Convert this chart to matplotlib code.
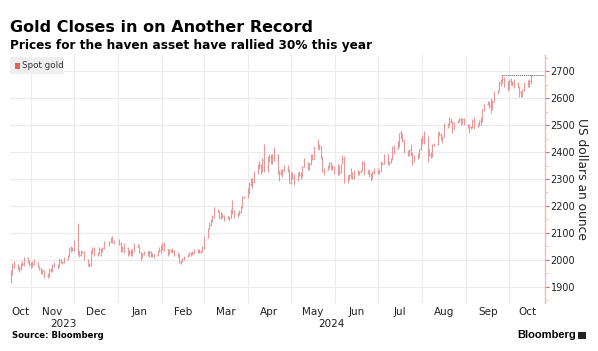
import numpy as np
import pandas as pd
import matplotlib
matplotlib.use("Agg")
import matplotlib.pyplot as plt
import matplotlib.dates as mdates
from matplotlib.patches import Rectangle

title = "Gold Closes in on Another Record"
subtitle = "Prices for the haven asset have rallied 30% this year"
source = "Source: Bloomberg"
series_name = "Spot gold"
y_label = "US dollars an ounce"
y_ticks = [1900, 2000, 2100, 2200, 2300, 2400, 2500, 2600, 2700]

# daily close / high / low, business days 2023-10-18 .. 2024-10-16 (Dec 25, Jan 1 closed)
close = [
    # Oct 2023
    1948, 1974, 1981, 1973, 1971, 1979, 1985, 2006, 1996, 1983,
    # Nov
    1983, 1985, 1992, 1978, 1969, 1950, 1958, 1940, 1946, 1963, 1959, 1981, 1981, 1978, 1999, 1990, 1992, 2002, 2014, 2041, 2044, 2036,
    # Dec
    2072, 2029, 2019, 2025, 2028, 2004, 1982, 1980, 2027, 2035, 2019, 2027, 2040, 2031, 2045, 2053, 2067, 2077, 2065, 2063,
    # Jan 2024
    2059, 2042, 2043, 2045, 2027, 2030, 2024, 2029, 2049, 2055, 2028, 2006, 2023, 2029, 2021, 2029, 2014, 2020, 2018, 2033, 2037, 2039,
    # Feb
    2054, 2039, 2025, 2035, 2035, 2034, 2024, 2020, 1992, 1992, 2004, 2013, 2018, 2025, 2025, 2024, 2035, 2031, 2030, 2034, 2044,
    # Mar
    2083, 2114, 2128, 2148, 2160, 2179, 2182, 2158, 2175, 2162, 2155, 2160, 2157, 2186, 2181, 2165, 2172, 2178, 2194, 2230, 2233,
    # Apr
    2250, 2280, 2300, 2290, 2329, 2339, 2352, 2333, 2372, 2344, 2383, 2383, 2361, 2379, 2391, 2327, 2322, 2316, 2332, 2337, 2336, 2286,
    # May
    2320, 2304, 2301, 2324, 2315, 2309, 2346, 2360, 2336, 2358, 2386, 2376, 2414, 2425, 2421, 2379, 2329, 2334, 2350, 2361, 2338, 2343, 2327,
    # Jun
    2350, 2327, 2355, 2376, 2293, 2311, 2316, 2325, 2304, 2333, 2319, 2330, 2328, 2360, 2321, 2334, 2320, 2298, 2327, 2326,
    # Jul
    2332, 2330, 2356, 2356, 2392, 2359, 2364, 2371, 2415, 2411, 2422, 2469, 2459, 2445, 2400, 2396, 2409, 2397, 2364, 2387, 2384, 2411, 2447,
    # Aug
    2446, 2443, 2410, 2390, 2383, 2427, 2431, 2472, 2465, 2448, 2456, 2507, 2504, 2514, 2512, 2484, 2512, 2518, 2524, 2505, 2521, 2503,
    # Sep
    2500, 2493, 2494, 2517, 2497, 2506, 2516, 2512, 2558, 2578, 2582, 2570, 2559, 2587, 2622, 2628, 2657, 2657, 2672, 2658, 2634,
    # Oct 2024
    2662, 2658, 2656, 2653, 2643, 2622, 2608, 2631, 2657, 2649, 2662, 2674,
]
high = [
    1962, 1987, 1997, 1985, 1979, 1989, 1995, 2009, 2010, 1999,
    1993, 1995, 2003, 1992, 1979, 1971, 1965, 1961, 1950, 1971, 1969, 1986, 1993, 1986, 2007, 2002, 1997, 2009, 2018, 2048, 2052, 2048,
    2075, 2135, 2038, 2036, 2034, 2034, 2005, 1988, 2037, 2048, 2047, 2030, 2047, 2045, 2048, 2070, 2070, 2084, 2088, 2075,
    2079, 2067, 2050, 2064, 2048, 2038, 2040, 2040, 2062, 2059, 2057, 2029, 2024, 2032, 2032, 2037, 2033, 2024, 2021, 2035, 2049, 2056,
    2065, 2066, 2042, 2039, 2041, 2044, 2037, 2029, 2023, 1999, 2006, 2016, 2022, 2031, 2031, 2034, 2041, 2041, 2039, 2037, 2052,
    2088, 2120, 2141, 2152, 2165, 2195, 2189, 2185, 2178, 2175, 2167, 2164, 2163, 2189, 2223, 2185, 2176, 2185, 2199, 2236, 2236,
    2266, 2288, 2305, 2305, 2331, 2354, 2365, 2354, 2378, 2431, 2386, 2392, 2392, 2391, 2417, 2393, 2333, 2337, 2338, 2352, 2353, 2336,
    2326, 2326, 2320, 2326, 2331, 2325, 2350, 2378, 2362, 2361, 2391, 2394, 2422, 2450, 2430, 2424, 2385, 2340, 2352, 2364, 2363, 2352, 2350,
    2354, 2351, 2357, 2388, 2387, 2313, 2318, 2342, 2327, 2335, 2333, 2331, 2335, 2368, 2368, 2335, 2337, 2321, 2330, 2339,
    2339, 2335, 2365, 2363, 2392, 2392, 2366, 2378, 2424, 2425, 2440, 2469, 2483, 2469, 2447, 2408, 2411, 2431, 2400, 2390, 2395, 2413, 2451,
    2462, 2477, 2461, 2413, 2400, 2430, 2434, 2475, 2477, 2471, 2461, 2509, 2509, 2531, 2525, 2515, 2513, 2519, 2527, 2528, 2525, 2525,
    2505, 2503, 2497, 2523, 2529, 2506, 2518, 2529, 2560, 2578, 2589, 2590, 2600, 2593, 2625, 2631, 2664, 2670, 2685, 2677, 2665,
    2670, 2673, 2665, 2670, 2660, 2645, 2625, 2634, 2660, 2666, 2672, 2685,
]
low = [
    1915, 1943, 1968, 1961, 1954, 1962, 1976, 1978, 1990, 1979,
    1970, 1974, 1980, 1972, 1964, 1947, 1946, 1932, 1931, 1936, 1954, 1955, 1973, 1966, 1974, 1987, 1986, 1990, 2000, 2011, 2031, 2032,
    2034, 2018, 2010, 2016, 2024, 2001, 1977, 1973, 1978, 2023, 2015, 2016, 2023, 2016, 2030, 2042, 2051, 2065, 2063, 2058,
    2057, 2031, 2031, 2024, 2016, 2019, 2015, 2013, 2032, 2048, 2025, 2001, 2007, 2018, 2015, 2010, 2010, 2009, 2008, 2015, 2030, 2026,
    2036, 2033, 2015, 2023, 2028, 2026, 2014, 2011, 1990, 1984, 1991, 1998, 2010, 2015, 2015, 2017, 2020, 2025, 2025, 2025, 2031,
    2041, 2082, 2114, 2126, 2142, 2156, 2176, 2150, 2152, 2155, 2146, 2150, 2146, 2154, 2172, 2155, 2160, 2168, 2175, 2192, 2228,
    2228, 2246, 2275, 2268, 2286, 2319, 2338, 2319, 2326, 2326, 2325, 2364, 2356, 2354, 2368, 2320, 2291, 2313, 2306, 2325, 2325, 2285,
    2281, 2299, 2277, 2291, 2310, 2301, 2306, 2345, 2335, 2335, 2352, 2370, 2374, 2412, 2406, 2374, 2326, 2316, 2335, 2340, 2334, 2334, 2317,
    2314, 2316, 2321, 2354, 2287, 2286, 2298, 2303, 2301, 2301, 2314, 2313, 2321, 2328, 2316, 2317, 2309, 2293, 2299, 2320,
    2318, 2319, 2330, 2354, 2356, 2353, 2353, 2360, 2371, 2392, 2411, 2420, 2450, 2437, 2396, 2385, 2384, 2385, 2353, 2365, 2375, 2377, 2408,
    2428, 2431, 2364, 2386, 2377, 2382, 2422, 2427, 2458, 2443, 2432, 2456, 2488, 2496, 2507, 2471, 2485, 2507, 2510, 2501, 2505, 2501,
    2490, 2472, 2484, 2489, 2485, 2492, 2496, 2500, 2513, 2553, 2575, 2565, 2546, 2555, 2586, 2614, 2627, 2645, 2655, 2640, 2625,
    2634, 2647, 2646, 2636, 2637, 2605, 2605, 2604, 2627, 2643, 2643, 2654,
]

closed_days = ["2023-12-25", "2024-01-01"]
dates = pd.bdate_range("2023-10-18", "2024-10-16")
dates = dates[~dates.isin(pd.to_datetime(closed_days))]
n = min(len(dates), len(close), len(high), len(low))
dates = dates[:n]
close = np.array(close[:n], float)
high = np.array(high[:n], float)
low = np.array(low[:n], float)
opens = np.concatenate([[close[0]], close[:-1]])

W, H = 598, 351
fig = plt.figure(figsize=(W / 100, H / 100), dpi=100)
fig.patch.set_facecolor("white")

x0, x1 = 10, 545
y0, y1 = 55, 303
ax = fig.add_axes([x0 / W, 1 - y1 / H, (x1 - x0) / W, (y1 - y0) / H])

xmin = pd.Timestamp("2023-10-17 12:00")
xmax = pd.Timestamp("2024-10-26")
ax.set_xlim(xmin, xmax)
ax.set_ylim(1840, 2760)

bar_color = "#e49a9a"
xd = mdates.date2num(dates)
ax.vlines(xd, low, high, color=bar_color, lw=0.8, zorder=3)
tick = 0.45
ax.hlines(opens, xd - tick, xd, color=bar_color, lw=0.6, zorder=3)
ax.hlines(close, xd, xd + tick, color=bar_color, lw=0.6, zorder=3)

# previous record marker
prev_idx = int(np.argmax(high[:-1]))
ax.hlines(high[prev_idx], xd[prev_idx], mdates.date2num(xmax), colors="#555555",
          linestyles=(0, (1, 1)), lw=0.7, zorder=4)

# grid
month_starts = pd.date_range("2023-11-01", "2024-10-01", freq="MS")
for m in month_starts:
    ax.axvline(m, color="#ebebeb", lw=0.8, zorder=1)
ax.set_yticks(y_ticks)
ax.set_yticks(np.arange(1850, 2760, 50), minor=True)
ax.grid(axis="y", which="major", color="#ebebeb", lw=0.8, zorder=1)

for s in ["top", "left", "bottom"]:
    ax.spines[s].set_visible(False)
ax.spines["right"].set_color("#f2b8b8")
ax.spines["right"].set_linewidth(1.0)
ax.yaxis.tick_right()
ax.tick_params(axis="y", which="major", colors="#e06060", length=3, width=0.8,
               labelcolor="#222222", labelsize=7, pad=1)
ax.tick_params(axis="y", which="minor", colors="#f2b8b8", length=2, width=0.6)
# axis title placed in figure pixels to the right of the tick labels
fig.text(581 / W, 1 - (y0 + y1) / 2 / H, y_label, rotation=-90, fontsize=8.8, color="#222222",
         ha="center", va="center")

# month labels centered on visible part of each month
ax.set_xticks([])
all_bounds = [xmin] + list(month_starts) + [xmax]
for a, b in zip(all_bounds[:-1], all_bounds[1:]):
    mid = a + (b - a) / 2
    ax.text(mid, -0.015, a.strftime("%b"),
            transform=ax.get_xaxis_transform(), ha="center", va="top",
            fontsize=7.5, color="#222222")
# year labels
years = [(xmin, pd.Timestamp("2024-01-01"), "2023"), (pd.Timestamp("2024-01-01"), xmax, "2024")]
for a, b, lab in years:
    mid = a + (b - a) / 2
    ax.text(mid, -0.065, lab, transform=ax.get_xaxis_transform(), ha="center", va="top",
            fontsize=7.5, color="#222222")

# legend
fig.patches.append(Rectangle((10 / W, 1 - 74 / H), 54 / W, 17 / H, transform=fig.transFigure,
                             facecolor="#efefef", edgecolor="none", zorder=5))
fig.patches.append(Rectangle((15 / W, 1 - 69 / H), 5 / W, 6 / H, transform=fig.transFigure,
                             facecolor="#e8605a", edgecolor="none", zorder=6))
fig.text(22 / W, 1 - 66 / H, series_name, fontsize=6.3, color="#333333", va="center", ha="left", zorder=7)

fig.text(10 / W, 1 - 28 / H, title, fontsize=11.5, fontweight="bold", va="center", ha="left", color="black")
fig.text(10 / W, 1 - 45 / H, subtitle, fontsize=8.7, fontweight="bold", va="center", ha="left", color="black")
fig.text(12 / W, 1 - 336 / H, source, fontsize=6.1, fontweight="bold", va="center", ha="left", color="black")
fig.text(576 / W, 1 - 335 / H, "Bloomberg", fontsize=8, fontweight="bold", va="center", ha="right",
         color="black", family="Liberation Sans")
fig.patches.append(Rectangle((578 / W, 1 - 339 / H), 8 / W, 7 / H, transform=fig.transFigure,
                             facecolor="#222222", edgecolor="none"))

fig.savefig("out.png", dpi=100, facecolor="white")
